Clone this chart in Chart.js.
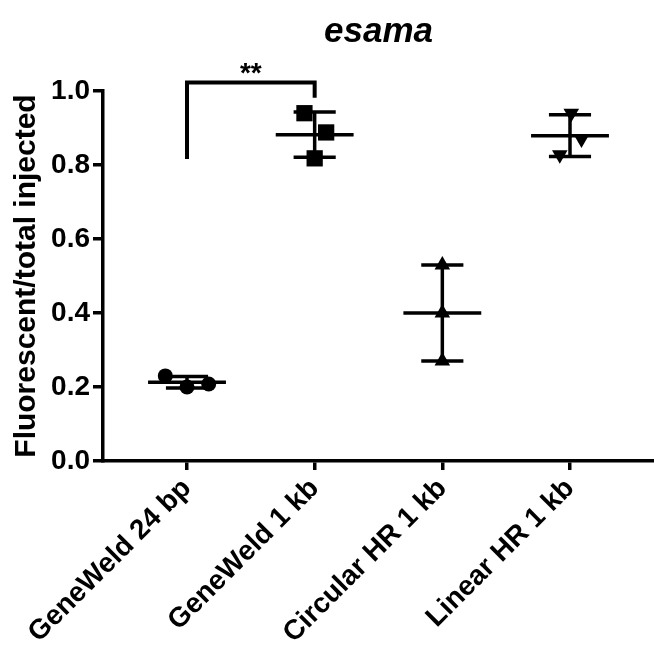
<!DOCTYPE html>
<html><head><meta charset="utf-8">
<script src="https://cdn.jsdelivr.net/npm/chart.js@4"></script>
<style>html,body{margin:0;padding:0;background:#fff}#wrap{width:654px;height:650px}</style>
</head><body><div id="wrap"><canvas id="c" width="654" height="650"></canvas></div>
<script>
const categories = ['GeneWeld 24 bp', 'GeneWeld 1 kb', 'Circular HR 1 kb', 'Linear HR 1 kb'];
const geneWeld24 = [0.230, 0.200, 0.208];
const geneWeld1kb = [0.940, 0.888, 0.818];
const circularHR = [0.530, 0.400, 0.270];
const linearHR = [0.940, 0.870, 0.828];
const jitter24 = [-0.17, 0.0, 0.17];
const jitter1kb = [-0.08, 0.09, 0.0];
const jitterCirc = [0.0, 0.0, 0.0];
const jitterLin = [0.01, 0.09, -0.08];
const yTicks = [0, 0.2, 0.4, 0.6, 0.8, 1.0];
const bracketX = [1, 1, 2, 2];
const bracketY = [0.816, 1.023, 1.023, 0.982];
const sigLabel = '**';

const FONT = "'Liberation Sans', Arial, sans-serif";
const groups = [
  {vals: geneWeld24, jit: jitter24, style: 'circle', r: 7.5, rot: 0},
  {vals: geneWeld1kb, jit: jitter1kb, style: 'rect', r: 11.5, rot: 0},
  {vals: circularHR, jit: jitterCirc, style: 'triangle', r: 9, rot: 0},
  {vals: linearHR, jit: jitterLin, style: 'triangle', r: 9, rot: 180}
];
function mean(a){return a.reduce((s,v)=>s+v,0)/a.length;}
function sd(a){const m=mean(a);return Math.sqrt(a.reduce((s,v)=>s+(v-m)*(v-m),0)/(a.length-1));}

const MEAN_HALF = 0.305, CAP_HALF = 0.165;
const datasets = [];
groups.forEach((g, i) => {
  const c = i + 1;
  datasets.push({
    type: 'scatter',
    data: g.vals.map((v, k) => ({x: c + g.jit[k], y: v})),
    pointStyle: g.style, pointRadius: g.r, pointRotation: g.rot,
    backgroundColor: '#000', borderColor: '#000', borderWidth: 0,
    order: 0
  });
});
groups.forEach((g, i) => {
  const c = i + 1, m = mean(g.vals), s = sd(g.vals);
  datasets.push({
    type: 'line',
    data: [
      {x: c - MEAN_HALF, y: m}, {x: c + MEAN_HALF, y: m}, {x: c, y: null},
      {x: c - CAP_HALF, y: m + s}, {x: c + CAP_HALF, y: m + s}, {x: c, y: null},
      {x: c - CAP_HALF, y: m - s}, {x: c + CAP_HALF, y: m - s}, {x: c, y: null},
      {x: c, y: m - s}, {x: c, y: m + s}
    ],
    borderColor: '#000', borderWidth: 3.5, pointRadius: 0, spanGaps: false,
    fill: false, tension: 0, borderCapStyle: 'butt', order: 1
  });
});
datasets.push({
  type: 'line',
  data: bracketX.map((x, k) => ({x: x, y: bracketY[k]})),
  borderColor: '#000', borderWidth: 4, pointRadius: 0, fill: false,
  tension: 0, clip: false, borderJoinStyle: 'miter', borderCapStyle: 'butt', order: 1
});

const starPlugin = {
  id: 'stars',
  afterDatasetsDraw(chart) {
    const {ctx, scales: {x, y}} = chart;
    ctx.save();
    ctx.fillStyle = '#000';
    ctx.font = 'bold 28px ' + FONT;
    ctx.textAlign = 'center';
    ctx.textBaseline = 'alphabetic';
    ctx.fillText(sigLabel, x.getPixelForValue((bracketX[1] + bracketX[2]) / 2), y.getPixelForValue(bracketY[1]));
    ctx.restore();
  }
};

new Chart(document.getElementById('c'), {
  data: {datasets},
  options: {
    responsive: false, animation: false, devicePixelRatio: 1,
    layout: {padding: 0, autoPadding: false},
    plugins: {
      legend: {display: false}, tooltip: {enabled: false},
      title: {display: true, text: 'esama', color: '#000', fullSize: false,
        font: {family: FONT, size: 35, weight: 'bold', style: 'italic'},
        padding: {top: 11, bottom: 38}}
    },
    scales: {
      x: {
        type: 'linear', min: 0.342, max: 4.658,
        afterBuildTicks: (s) => { s.ticks = categories.map((_, i) => ({value: i + 1})); },
        afterFit: (s) => { s.height = 189; s.paddingLeft = 0; s.paddingRight = 0; },
        ticks: {autoSkip: false, maxRotation: 45, minRotation: 45, color: '#000', padding: 2,
          font: {family: FONT, size: 28, weight: 'bold'},
          callback: (v) => categories[Math.round(v) - 1]},
        grid: {display: true, drawOnChartArea: false, drawTicks: true, tickLength: 9, lineWidth: 3.5, color: '#000'},
        border: {display: true, width: 3.5, color: '#000'}
      },
      y: {
        type: 'linear', min: 0, max: 1,
        afterBuildTicks: (s) => { s.ticks = yTicks.map(v => ({value: v})); },
        afterFit: (s) => { s.width = 103; s.paddingTop = 0; s.paddingBottom = 0; },
        ticks: {color: '#000', padding: 3, font: {family: FONT, size: 28, weight: 'bold'},
          callback: (v) => Number(v).toFixed(1)},
        grid: {display: true, drawOnChartArea: false, drawTicks: true, tickLength: 10, lineWidth: 3.5, color: '#000'},
        border: {display: true, width: 3.5, color: '#000'},
        title: {display: true, text: 'Fluorescent/total injected', color: '#000',
          font: {family: FONT, size: 30, weight: 'bold'}, padding: {top: 9, bottom: 0}}
      }
    }
  },
  plugins: [starPlugin]
});
</script></body></html>
